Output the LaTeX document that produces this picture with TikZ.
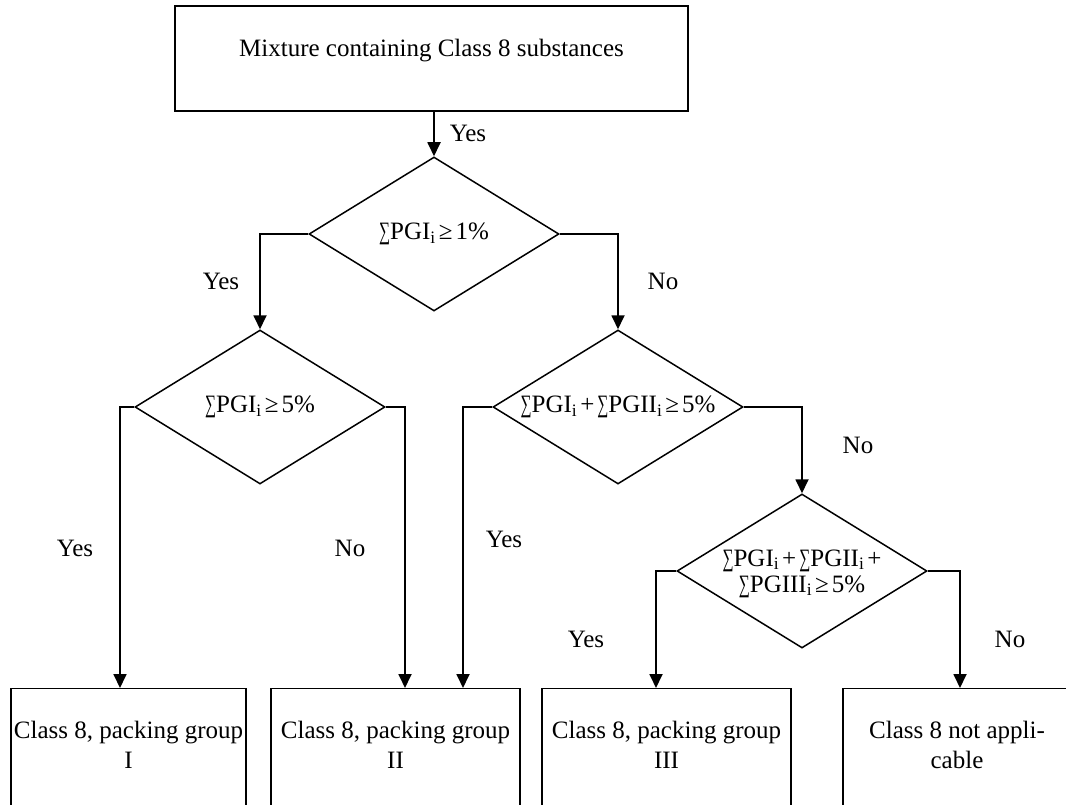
\documentclass[tikz,border=0pt]{standalone}
\usepackage{fontspec}
\usepackage{graphicx}
\setmainfont{Liberation Serif}
\usetikzlibrary{shapes.geometric,arrows.meta}
\newcommand\mysum{\scalebox{0.62}[1]{∑}}
\newcommand\gsp{\kern3pt}
\begin{document}
\begin{tikzpicture}[x=1pt,y=-1pt,
  every node/.style={font=\fontsize{25}{30}\selectfont},
  topbox/.style={draw, rectangle, line width=1.5pt, inner sep=0pt, minimum width=513pt, minimum height=105pt, text height=18pt, text depth=21pt},
  endbox/.style={draw, rectangle, line width=1.3pt, inner sep=0pt, anchor=north, minimum height=122pt, text height=20pt, text depth=42pt},
  dia/.style={draw, diamond, line width=1.5pt, inner sep=0pt, shape aspect=1.62, minimum width=250pt, minimum height=154pt, align=center, font=\fontsize{25}{26}\selectfont},
  lbl/.style={inner sep=0pt},
  arr/.style={line width=1.8pt, -{Triangle[length=14pt,width=13pt]}}]
\clip (0,0) rectangle (1066,805);
\fill[white] (0,0) rectangle (1066,805);

% top box
\node[topbox] (top) at (431.5,58.5) {Mixture containing Class 8 substances};

% decisions
\node[dia] (d1) at (434,234) {\mysum PGI\textsubscript{i}\gsp≥\gsp1\%};
\node[dia] (d2) at (260,407) {\mysum PGI\textsubscript{i}\gsp≥\gsp5\%};
\node[dia] (d3) at (618,407) {\mysum PGI\textsubscript{i}\gsp+\gsp\mysum PGII\textsubscript{i}\gsp≥\gsp5\%};
\node[dia, text height=15pt, text depth=25pt] (d4) at (802,571) {\begin{tabular}[t]{@{}c@{}}\mysum PGI\textsubscript{i}\gsp+\gsp\mysum PGII\textsubscript{i}\gsp+\\\mysum PGIII\textsubscript{i}\gsp≥\gsp5\%\end{tabular}};

% end boxes
\node[endbox, minimum width=235pt] (b1) at (128.5,688) {\begin{tabular}[t]{@{}c@{}}Class 8, packing group\\I\end{tabular}};
\node[endbox, minimum width=249pt] (b2) at (395.5,688) {\begin{tabular}[t]{@{}c@{}}Class 8, packing group\\II\end{tabular}};
\node[endbox, minimum width=249pt] (b3) at (666.5,688) {\begin{tabular}[t]{@{}c@{}}Class 8, packing group\\III\end{tabular}};
\node[endbox, minimum width=228pt] (b4) at (957,688) {\begin{tabular}[t]{@{}c@{}}Class 8 not appli-\\cable\end{tabular}};

% connectors
\draw[arr] (d1.north |- top.south) -- (d1.north);
\draw[arr] (d1.west) -| (d2.north);
\draw[arr] (d1.east) -| (d3.north);
\draw[arr] (d2.west) -| ([xshift=-8.5pt]b1.north);
\draw[arr] (d2.east) -| ([xshift=9.5pt]b2.north);
\draw[arr] (d3.west) -| ([xshift=67.5pt]b2.north);
\draw[arr] (d3.east) -| (d4.north);
\draw[arr] (d4.west) -| ([xshift=-10.5pt]b3.north);
\draw[arr] (d4.east) -| ([xshift=3pt]b4.north);

% labels
\node[lbl] (l0) at (468,133) {Yes};
\node[lbl] (l1) at (221,281) {Yes};
\node[lbl] (l2) at (663,281) {No};
\node[lbl] (l3) at (75,548) {Yes};
\node[lbl] (l4) at (350,548) {No};
\node[lbl] (l5) at (504,539) {Yes};
\node[lbl] (l6) at (858,445) {No};
\node[lbl] (l7) at (586,639) {Yes};
\node[lbl] (l8) at (1010,639) {No};
\end{tikzpicture}
\end{document}
